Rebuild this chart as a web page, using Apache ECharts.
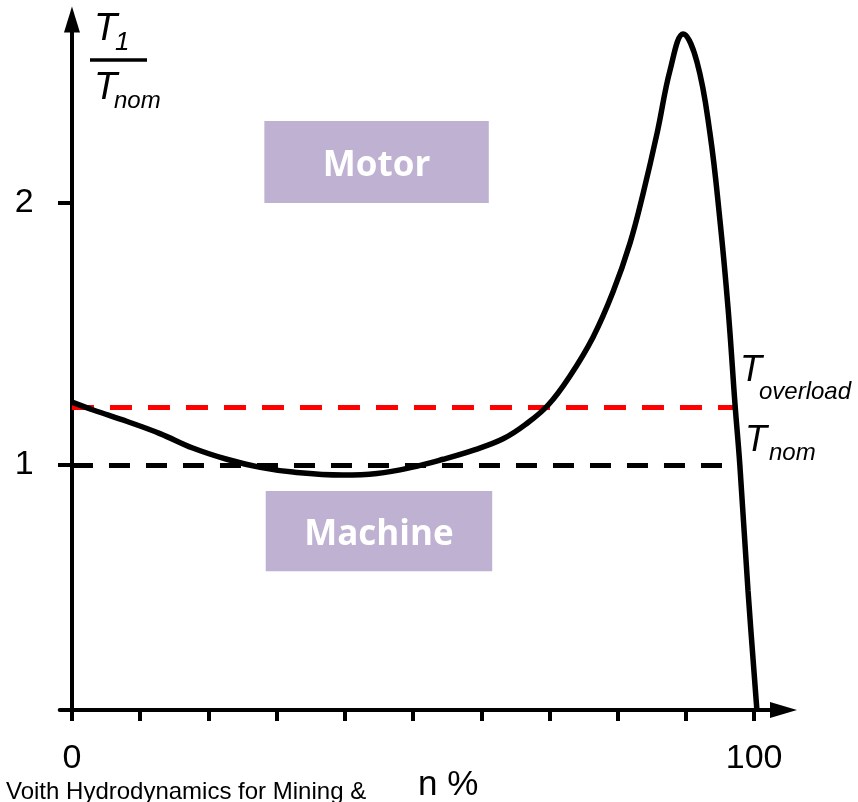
<!DOCTYPE html>
<html>
<head>
<meta charset="utf-8">
<script src="https://cdn.jsdelivr.net/npm/echarts@6/dist/echarts.min.js"></script>
<style>
html,body{margin:0;padding:0;background:#fff;}
#chart{width:858px;height:802px;}
</style>
</head>
<body>
<div id="chart"></div>
<script>
// ---- data ----
const speedPct = [0, 3.1, 8.1, 12.9, 17.7, 22.7, 27.6, 32.4, 39.7, 44.7, 49.6, 54.4, 59.0, 63.2, 66.5, 69.8, 73.0, 76.4, 79.3, 81.8, 83.7, 85.8, 87.7, 89.6, 91.6, 93.5, 95.0, 96.2, 97.2, 97.9, 99.1, 100.4];
const torqueRatio = [1.24, 1.21, 1.166, 1.12, 1.065, 1.022, 0.991, 0.973, 0.962, 0.968, 0.99, 1.022, 1.058, 1.10, 1.155, 1.229, 1.34, 1.489, 1.66, 1.847, 2.034, 2.27, 2.51, 2.645, 2.54, 2.27, 1.93, 1.59, 1.229, 1.0, 0.52, 0.065];
const xTickValues = [0, 10, 20, 30, 40, 50, 60, 70, 80, 90, 100];
const xLabelValues = [0, 100];
const yTickValues = [1, 2];
const overloadLevel = 1.221;
const overloadEndX = 97.3;
const nominalLevel = 1.0;
const nominalEndX = 97.9;
const motorBoxX = [28.2, 61.1];
const motorBoxY = [2.0, 2.313];
const machineBoxX = [28.4, 61.6];
const machineBoxY = [0.595, 0.901];
const boxLabels = ['Motor', 'Machine'];

const curve = speedPct.map((x, i) => [x, torqueRatio[i]]);
const FONT = "'Liberation Sans', Arial, sans-serif";

const chart = echarts.init(document.getElementById('chart'), null, {renderer: 'canvas'});

function txt(text, x, y, size, italic) {
  return {
    type: 'text', silent: true,
    style: {
      text: text, x: x, y: y,
      font: (italic ? 'italic ' : '') + size + 'px ' + FONT,
      fill: '#000',
      align: 'left', verticalAlign: 'middle',
      textAlign: 'left', textVerticalAlign: 'middle'
    }
  };
}

const option = {
  backgroundColor: '#fff',
  animation: false,
  grid: {left: 59.7, right: 74.5, top: 19.6, bottom: 92, containLabel: false},
  xAxis: {
    type: 'value', min: -1.8, max: 104.3,
    splitLine: {show: false},
    axisLine: {show: true, onZero: false, symbol: ['none', 'triangle'], symbolSize: [16, 27],
      lineStyle: {color: '#000', width: 4}},
    axisTick: {show: true, customValues: xTickValues, length: 11, inside: false,
      lineStyle: {color: '#000', width: 4}},
    axisLabel: {show: true, customValues: xLabelValues, margin: 32, color: '#000',
      fontSize: 34, fontFamily: FONT}
  },
  yAxis: {
    type: 'value', min: 0.065, max: 2.7,
    splitLine: {show: false},
    axisLine: {show: true, onZero: true, symbol: ['none', 'triangle'], symbolSize: [16, 26],
      lineStyle: {color: '#000', width: 4}},
    axisTick: {show: true, customValues: yTickValues, length: 14, inside: false,
      lineStyle: {color: '#000', width: 4}},
    axisLabel: {show: true, customValues: yTickValues, margin: 26, color: '#000',
      fontSize: 34, fontFamily: FONT}
  },
  series: [{
    type: 'line',
    data: curve,
    smooth: 0.4,
    showSymbol: false,
    symbol: 'none',
    silent: true,
    z: 5,
    lineStyle: {color: '#000', width: 5.5},
    markLine: {
      silent: true,
      symbol: ['none', 'none'],
      label: {show: false},
      lineStyle: {type: [22, 16], width: 5},
      data: [
        [{coord: [0, overloadLevel], lineStyle: {color: '#ff0000', type: [22, 16], width: 5}}, {coord: [overloadEndX, overloadLevel]}],
        [{coord: [0, nominalLevel], lineStyle: {color: '#000000', type: [21, 16], width: 5}}, {coord: [nominalEndX, nominalLevel]}]
      ]
    },
    markArea: {
      silent: true,
      itemStyle: {color: '#bfb1d1'},
      label: {show: true, position: 'inside', color: '#fff', fontSize: 35, fontWeight: 'bold',
        fontFamily: "'Open Sans', sans-serif", offset: [0, 4]},
      data: [
        [{name: boxLabels[0], coord: [motorBoxX[0], motorBoxY[1]]}, {coord: [motorBoxX[1], motorBoxY[0]]}],
        [{name: boxLabels[1], coord: [machineBoxX[0], machineBoxY[1]]}, {coord: [machineBoxX[1], machineBoxY[0]]}]
      ]
    }
  }],
  graphic: [
    txt('T', 94, 29.7, 38, true),
    txt('1', 115, 42.9, 26, true),
    {type: 'line', silent: true, shape: {x1: 90, y1: 60, x2: 147, y2: 60}, style: {stroke: '#000', lineWidth: 3.5}},
    txt('T', 94, 88.7, 38, true),
    txt('nom', 114, 101.6, 24, true),
    txt('T', 740, 370.8, 36, true),
    txt('overload', 759, 392.6, 24, true),
    txt('T', 745, 440.8, 36, true),
    txt('nom', 769, 453.6, 24, true),
    txt('n %', 418, 785.8, 35, false),
    txt('Voith Hydrodynamics for Mining &', 6, 792.6, 24, false)
  ]
};
chart.setOption(option);
</script>
</body>
</html>
